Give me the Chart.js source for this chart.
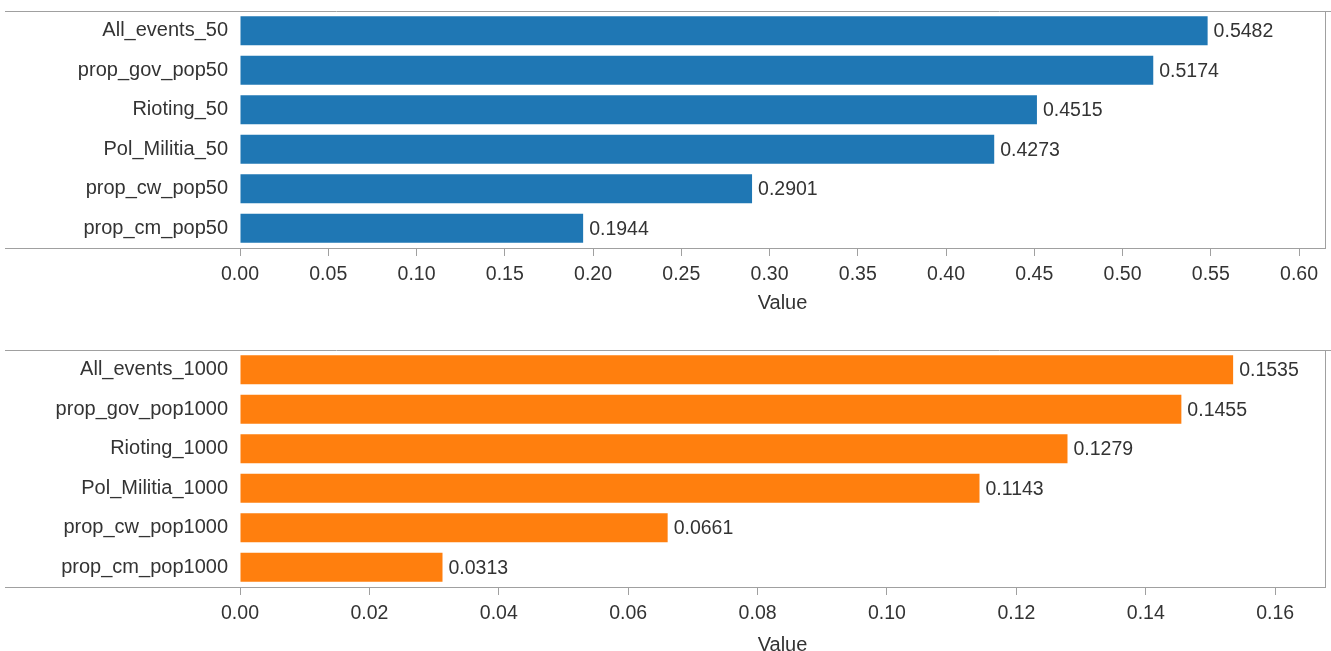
<!DOCTYPE html>
<html>
<head>
<meta charset="utf-8">
<script src="https://cdn.jsdelivr.net/npm/chart.js@4.4.0/dist/chart.umd.min.js"></script>
<style>
  body { margin: 0; background: #fff; width: 1331px; height: 651px; overflow: hidden; position: relative; }
  .box { position: absolute; left: 0; width: 1331px; }
  #box-top { top: 0; height: 320px; }
  #box-bot { top: 339px; height: 320px; }
</style>
</head>
<body>
<div class="box" id="box-top"><canvas id="chart-top"></canvas></div>
<div class="box" id="box-bot"><canvas id="chart-bot"></canvas></div>
<script>
const labels50 = ['All_events_50', 'prop_gov_pop50', 'Rioting_50', 'Pol_Militia_50', 'prop_cw_pop50', 'prop_cm_pop50'];
const values50 = [0.5482, 0.5174, 0.4515, 0.4273, 0.2901, 0.1944];
const ticks50 = [0, 0.05, 0.10, 0.15, 0.20, 0.25, 0.30, 0.35, 0.40, 0.45, 0.50, 0.55, 0.60];

const labels1000 = ['All_events_1000', 'prop_gov_pop1000', 'Rioting_1000', 'Pol_Militia_1000', 'prop_cw_pop1000', 'prop_cm_pop1000'];
const values1000 = [0.1535, 0.1455, 0.1279, 0.1143, 0.0661, 0.0313];
const ticks1000 = [0, 0.02, 0.04, 0.06, 0.08, 0.10, 0.12, 0.14, 0.16];

const FONT = 'Liberation Sans, Arial, sans-serif';
const TEXT = '#333';
const LINE = '#a0a0a0';

// value labels at bar ends + frame lines that stick out into the label area
const decor = {
    id: 'decor',
    afterDatasetsDraw(chart) {
        const ctx = chart.ctx;
        const area = chart.chartArea;
        ctx.save();
        ctx.strokeStyle = LINE;
        ctx.lineWidth = 1;
        ctx.beginPath();
        ctx.moveTo(5, area.top + 0.5);
        ctx.lineTo(chart.width, area.top + 0.5);
        ctx.moveTo(5, area.bottom + 0.5);
        ctx.lineTo(area.right, area.bottom + 0.5);
        ctx.moveTo(area.right + 0.5, area.top);
        ctx.lineTo(area.right + 0.5, area.bottom);
        ctx.stroke();

        ctx.font = '19.5px ' + FONT;
        ctx.fillStyle = TEXT;
        ctx.textAlign = 'left';
        ctx.textBaseline = 'middle';
        const meta = chart.getDatasetMeta(0);
        const data = chart.data.datasets[0].data;
        meta.data.forEach((bar, i) => {
            ctx.fillText(data[i].toFixed(4), bar.x + 6, bar.y + 1);
        });
        ctx.restore();
    }
};

function makeChart(id, labels, values, tickVals, max, color, titlePad) {
    const ctx = document.getElementById(id).getContext('2d');
    return new Chart(ctx, {
        type: 'bar',
        data: {
            labels: labels,
            datasets: [{
                data: values,
                backgroundColor: color,
                borderWidth: 0,
                barPercentage: 0.74,
                categoryPercentage: 1.0
            }]
        },
        options: {
            indexAxis: 'y',
            responsive: true,
            maintainAspectRatio: false,
            animation: false,
            layout: { padding: { top: 11, right: 6, left: 0, bottom: 0 } },
            plugins: { legend: { display: false }, tooltip: { enabled: false } },
            scales: {
                x: {
                    min: 0,
                    max: max,
                    afterBuildTicks: (scale) => { scale.ticks = tickVals.map(v => ({ value: v })); },
                    afterFit: (scale) => { scale.height = 72; },
                    grid: { drawOnChartArea: false, drawTicks: true, tickLength: 8, color: LINE },
                    border: { display: true, color: LINE },
                    ticks: {
                        color: TEXT,
                        padding: 7,
                        font: { size: 19.5, family: FONT },
                        callback: (v) => Number(v).toFixed(2)
                    },
                    title: {
                        display: true,
                        text: 'Value',
                        color: TEXT,
                        font: { size: 20, family: FONT },
                        padding: { top: 0, bottom: titlePad }
                    }
                },
                y: {
                    afterFit: (scale) => {
                        scale.width = 240;
                        scale.paddingTop = 0;
                        scale.paddingBottom = 0;
                    },
                    grid: { display: false },
                    border: { display: false },
                    ticks: {
                        color: TEXT,
                        padding: 4,
                        font: { size: 20, family: FONT }
                    }
                }
            }
        },
        plugins: [decor]
    });
}

makeChart('chart-top', labels50, values50, ticks50, 0.6147, '#1f77b4', 5);
makeChart('chart-bot', labels1000, values1000, ticks1000, 0.1677, '#ff7f0e', 2);
</script>
</body>
</html>
